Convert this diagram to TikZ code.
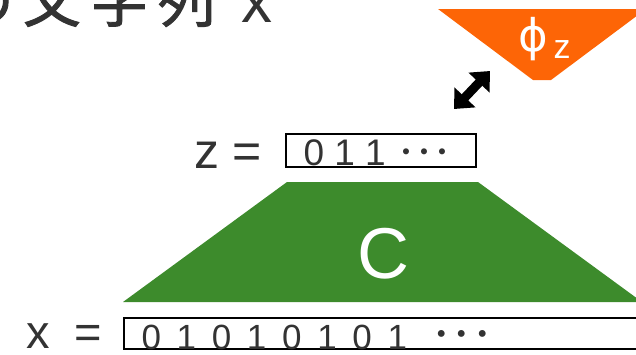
\documentclass[tikz,border=0pt]{standalone}
\usepackage{fontspec}
\setmainfont{Liberation Sans}
\newfontfamily\cjk{Noto Sans CJK JP}
\newfontfamily\cjkb[FakeBold=1.6]{Noto Sans CJK JP}
\newfontfamily\djv{DejaVu Sans}
\usetikzlibrary{arrows.meta}
\definecolor{txt}{RGB}{51,51,51}
\definecolor{orng}{RGB}{253,101,6}
\definecolor{grn}{RGB}{61,139,44}
\begin{document}
\begin{tikzpicture}[x=1pt,y=-1pt,
  lbl/.style={inner sep=0pt,outer sep=0pt,text=txt,anchor=base west},
  bitbox/.style={draw=black,line width=2pt},
  dblarrow/.style={line width=9pt,{Triangle[length=16pt,width=28pt]}-{Triangle[length=16pt,width=28pt]}}]
\useasboundingbox (0,0) rectangle (636,354);
\clip (0,0) rectangle (636,354);
% title (cut off at top)
\node[lbl] (title) at (-44.5,22) {\cjkb\fontsize{58}{58}\selectfont の\hspace{9.5pt}文\hspace{9.5pt}字\hspace{9.5pt}列\hspace{25pt}{\rmfamily\fontsize{62}{62}\selectfont x}};
% orange decoder
\fill[orng] (438,9) -- (646,9) -- (551,80) -- (533,80) -- cycle;
\node[inner sep=0pt,outer sep=0pt,anchor=base west,text=white] (phi) at (518,51) {\djv\fontsize{45}{45}\selectfont ϕ\hspace{6pt}\raisebox{-7pt}{\rmfamily\fontsize{34}{34}\selectfont z}};
% double arrow
\coordinate (a1) at (454,109);
\coordinate (a2) at (490,71);
\draw[dblarrow] (a1) -- (a2);
% z row
\node[lbl] (zl) at (194,168) {\fontsize{50}{50}\selectfont z =};
\draw[bitbox] (286,134) rectangle (476,167);
\node[lbl] (zbits) at (303.5,165) {\fontsize{37}{37}\selectfont 0 1 1\hspace{12pt}{\cjk\fontsize{36}{36}\selectfont ･･･}};
% green compressor
\fill[grn] (287,182) -- (478,182) -- (642,302) -- (123,302) -- cycle;
\node[inner sep=0pt,outer sep=0pt,text=white] (C) at (383,254) {\fontsize{72}{72}\selectfont C};
% x row
\node[lbl] (xl) at (26,348) {\fontsize{47}{47}\selectfont x\hspace{25pt}=};
\draw[bitbox] (124,318) rectangle (660,349);
\node[lbl] (xbits) at (141.5,349) {\fontsize{35}{35}\selectfont\spaceskip=15.7pt 0 1 0 1 0 1 0 1\hspace{24pt}{\cjk\fontsize{41}{41}\selectfont ･･･}};
\end{tikzpicture}
\end{document}
